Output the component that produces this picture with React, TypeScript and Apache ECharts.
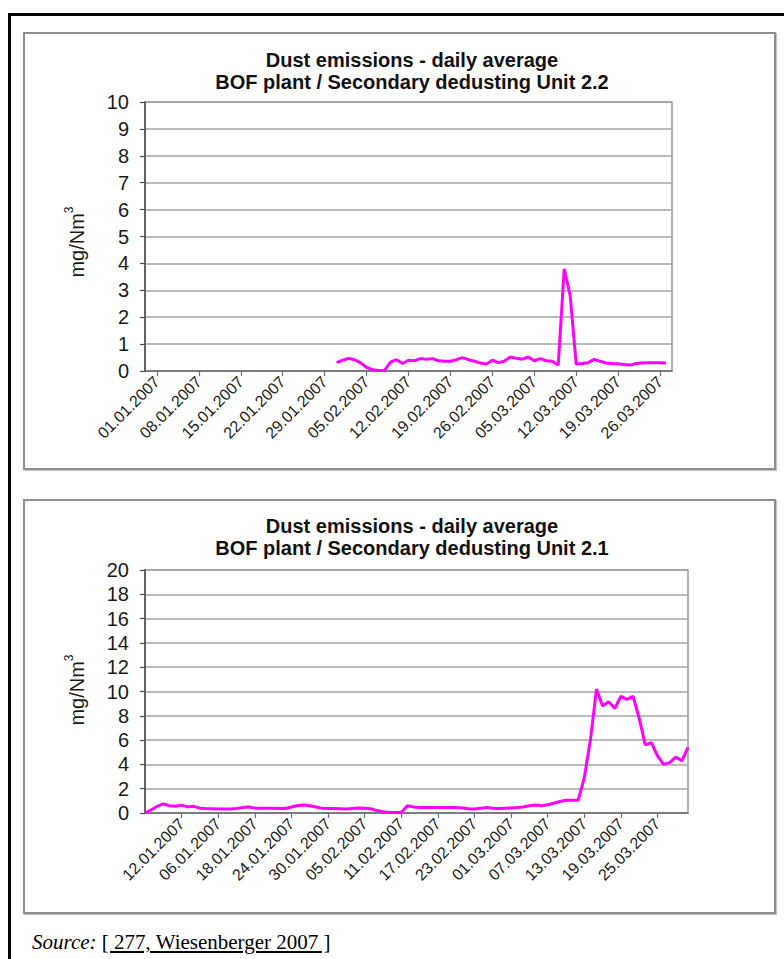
import React, { useEffect, useRef } from "react";
import * as echarts from "echarts";

// ---------- Chart 1: Secondary dedusting Unit 2.2 ----------
const UNIT22_TITLE_1 = "Dust emissions - daily average";
const UNIT22_TITLE_2 = "BOF plant / Secondary dedusting Unit 2.2";
const UNIT22_DAY_COUNT = 89;
const UNIT22_FIRST_LABEL = 2;
const UNIT22_LABEL_STEP = 7;
const UNIT22_TICKS = [
  "01.01.2007", "08.01.2007", "15.01.2007", "22.01.2007", "29.01.2007",
  "05.02.2007", "12.02.2007", "19.02.2007", "26.02.2007", "05.03.2007",
  "12.03.2007", "19.03.2007", "26.03.2007",
];
const UNIT22_START = 32;
const UNIT22_VALUES = [
  0.31, 0.4, 0.47, 0.42, 0.3, 0.13, 0.05, 0.02, 0.02, 0.33,
  0.42, 0.28, 0.4, 0.38, 0.46, 0.44, 0.46, 0.38, 0.36, 0.36,
  0.42, 0.5, 0.42, 0.36, 0.3, 0.26, 0.4, 0.31, 0.36, 0.52,
  0.47, 0.44, 0.52, 0.38, 0.46, 0.38, 0.36, 0.22, 3.8, 2.8,
  0.26, 0.28, 0.31, 0.43, 0.36, 0.3, 0.28, 0.27, 0.24, 0.22,
  0.28, 0.3, 0.31, 0.31, 0.31, 0.3,
];

// ---------- Chart 2: Secondary dedusting Unit 2.1 ----------
const UNIT21_TITLE_1 = "Dust emissions - daily average";
const UNIT21_TITLE_2 = "BOF plant / Secondary dedusting Unit 2.1";
const UNIT21_DAY_COUNT = 90;
const UNIT21_FIRST_LABEL = 6;
const UNIT21_LABEL_STEP = 6;
const UNIT21_TICKS = [
  "12.01.2007", "06.01.2007", "18.01.2007", "24.01.2007", "30.01.2007",
  "05.02.2007", "11.02.2007", "17.02.2007", "23.02.2007", "01.03.2007",
  "07.03.2007", "13.03.2007", "19.03.2007", "25.03.2007",
];
const UNIT21_VALUES = [
  0, 0.25, 0.55, 0.75, 0.6, 0.55, 0.65, 0.5, 0.55, 0.4,
  0.37, 0.35, 0.33, 0.33, 0.33, 0.38, 0.45, 0.5, 0.4, 0.4,
  0.4, 0.4, 0.38, 0.37, 0.5, 0.62, 0.65, 0.6, 0.5, 0.4,
  0.38, 0.37, 0.35, 0.33, 0.38, 0.42, 0.4, 0.35, 0.2, 0.1,
  0.05, 0.05, 0.05, 0.6, 0.5, 0.45, 0.45, 0.45, 0.45, 0.45,
  0.45, 0.45, 0.42, 0.35, 0.33, 0.4, 0.45, 0.4, 0.38, 0.4,
  0.42, 0.45, 0.5, 0.6, 0.65, 0.6, 0.68, 0.8, 0.95, 1.05,
  1.05, 1.05, 2.9, 6.0, 10.2, 8.8, 9.15, 8.6, 9.6, 9.35,
  9.6, 7.8, 5.6, 5.8, 4.7, 4.0, 4.15, 4.6, 4.3, 5.4,
];

const Y_NAME = "mg/Nm";
const Y_NAME_SUP = "3";
const SOURCE_LABEL = "Source:";
const SOURCE_REF = "[ 277, Wiesenberger 2007 ]";

const W = 784;
const H = 959;
const FONT = "'Liberation Sans', Arial, sans-serif";
const MAGENTA = "#ff00ff";

function buildOption() {
  const cats1 = Array.from({ length: UNIT22_DAY_COUNT }, (_, i) => String(i));
  const cats2 = Array.from({ length: UNIT21_DAY_COUNT }, (_, i) => String(i));
  const data1 = cats1.map((_, i) => {
    const k = i - UNIT22_START;
    return k >= 0 && k < UNIT22_VALUES.length ? UNIT22_VALUES[k] : null;
  });
  const data2 = cats2.map((_, i) => (i < UNIT21_VALUES.length ? UNIT21_VALUES[i] : null));

  const show1 = (idx: number) =>
    idx >= UNIT22_FIRST_LABEL && (idx - UNIT22_FIRST_LABEL) % UNIT22_LABEL_STEP === 0 &&
    (idx - UNIT22_FIRST_LABEL) / UNIT22_LABEL_STEP < UNIT22_TICKS.length;
  const show2 = (idx: number) =>
    idx >= UNIT21_FIRST_LABEL && (idx - UNIT21_FIRST_LABEL) % UNIT21_LABEL_STEP === 0 &&
    (idx - UNIT21_FIRST_LABEL) / UNIT21_LABEL_STEP < UNIT21_TICKS.length;

  const xAxisBase = (gridIndex: number, cats: string[], show: (i: number) => boolean, fmt: (v: string, i: number) => string) => ({
    type: "category",
    gridIndex,
    data: cats,
    boundaryGap: false,
    axisLine: { show: true, lineStyle: { color: "#6e6e6e", width: 1.5 } },
    axisTick: { show: true, interval: (i: number) => show(i), length: 5, lineStyle: { color: "#6e6e6e", width: 1.2 } },
    axisLabel: {
      interval: (i: number) => show(i),
      formatter: fmt,
      rotate: 45,
      fontSize: 16,
      fontFamily: FONT,
      color: "#1a1a1a",
      margin: 8,
    },
    splitLine: { show: false },
  });

  const yAxisBase = (gridIndex: number, max: number, interval: number) => ({
    type: "value",
    gridIndex,
    min: 0,
    max,
    interval,
    axisLine: { show: true, lineStyle: { color: "#4a4a4a", width: 1.5 } },
    axisTick: { show: true, length: 5, lineStyle: { color: "#4a4a4a", width: 1.2 } },
    axisLabel: { fontSize: 20, fontFamily: FONT, color: "#1a1a1a", margin: 16 },
    splitLine: { show: true, lineStyle: { color: "#a3a3a3", width: 1.5 } },
  });

  const titleText = (text: string, x: number, y: number) => ({
    type: "text",
    x,
    y,
    style: {
      text,
      fontFamily: FONT,
      fontSize: 20,
      fontWeight: "bold",
      fill: "#111",
      align: "center",
      verticalAlign: "middle",
    },
  });

  const yName = (x: number, y: number) => ({
    type: "text",
    x,
    y,
    rotation: Math.PI / 2,
    style: {
      text: `{a|${Y_NAME}}{s|${Y_NAME_SUP}}`,
      align: "center",
      verticalAlign: "middle",
      rich: {
        a: { fontFamily: FONT, fontSize: 20, fill: "#1a1a1a", lineHeight: 24, verticalAlign: "bottom" },
        s: { fontFamily: FONT, fontSize: 12, fill: "#1a1a1a", lineHeight: 24, verticalAlign: "top" },
      },
    },
  });

  return {
    animation: false,
    graphic: [
      titleText(UNIT22_TITLE_1, 412, 60),
      titleText(UNIT22_TITLE_2, 412, 82),
      titleText(UNIT21_TITLE_1, 412, 526),
      titleText(UNIT21_TITLE_2, 412, 548),
      yName(75, 242),
      yName(75, 690),
    ],
    grid: [
      {
        left: 145, right: W - 672, top: 102, bottom: H - 371,
        show: true, borderColor: "#9a9a9a", borderWidth: 1.5, backgroundColor: "transparent",
        containLabel: false, outerBoundsMode: "none",
      },
      {
        left: 145, right: W - 688, top: 570, bottom: H - 813,
        show: true, borderColor: "#9a9a9a", borderWidth: 1.5, backgroundColor: "transparent",
        containLabel: false, outerBoundsMode: "none",
      },
    ],
    xAxis: [
      xAxisBase(0, cats1, show1, (_v: string, i: number) => UNIT22_TICKS[(i - UNIT22_FIRST_LABEL) / UNIT22_LABEL_STEP] ?? ""),
      xAxisBase(1, cats2, show2, (_v: string, i: number) => UNIT21_TICKS[(i - UNIT21_FIRST_LABEL) / UNIT21_LABEL_STEP] ?? ""),
    ],
    yAxis: [yAxisBase(0, 10, 1), yAxisBase(1, 20, 2)],
    series: [
      {
        type: "line", xAxisIndex: 0, yAxisIndex: 0, data: data1,
        showSymbol: false, symbol: "none", connectNulls: false,
        lineStyle: { color: MAGENTA, width: 3 }, itemStyle: { color: MAGENTA },
      },
      {
        type: "line", xAxisIndex: 1, yAxisIndex: 1, data: data2,
        showSymbol: false, symbol: "none",
        lineStyle: { color: MAGENTA, width: 3 }, itemStyle: { color: MAGENTA },
      },
    ],
  };
}

export default function App() {
  const ref = useRef<HTMLDivElement | null>(null);

  useEffect(() => {
    if (!ref.current) return;
    const chart = echarts.init(ref.current, null, { renderer: "svg", width: W, height: H });
    chart.setOption(buildOption() as any);
    return () => chart.dispose();
  }, []);

  const panel = (top: number, height: number): React.CSSProperties => ({
    position: "absolute",
    left: 23,
    top,
    width: 753,
    height,
    boxSizing: "border-box",
    border: "2px solid #8e8e8e",
    boxShadow: "1px 1px 1px #c8c8c8",
    background: "#fff",
  });

  return (
    <div style={{ position: "absolute", left: 0, top: 0, width: W, height: H, overflow: "hidden", background: "#fff" }}>
      <div
        style={{
          position: "absolute", left: 8, top: 13, width: 800, height: 1000,
          boxSizing: "border-box", border: "3px solid #000",
        }}
      />
      <div style={panel(32, 438)} />
      <div style={panel(499, 415)} />
      <div
        style={{
          position: "absolute", left: 32, top: 930, fontFamily: "'Liberation Serif', 'Times New Roman', serif",
          fontSize: 21, lineHeight: "25px", color: "#000", whiteSpace: "nowrap",
        }}
      >
        <i>{SOURCE_LABEL}</i> <u>{SOURCE_REF}</u>
      </div>
      <div ref={ref} style={{ position: "absolute", left: 0, top: 0, width: W, height: H }} />
    </div>
  );
}
